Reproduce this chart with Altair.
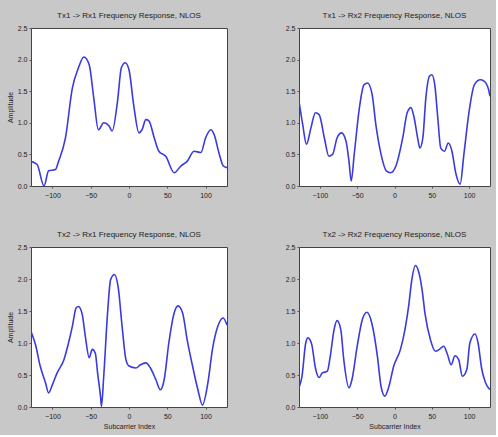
import altair as alt
import pandas as pd

# Subcarrier index / amplitude samples
tl_x = [-128,-120,-111,-105,-96,-92,-83,-74,-66,-59,-52,-46,-40,-33,-26,-22,-15,-10,-5,0,6,13,17,22,26,33,39,48,59,68,76,85,94,100,107,111,118,123,128]
tl_y = [0.39,0.34,0.0,0.24,0.26,0.39,0.76,1.55,1.87,2.04,1.92,1.39,0.89,1.0,0.95,0.87,1.34,1.87,1.95,1.84,1.29,0.84,0.89,1.05,1.03,0.76,0.55,0.47,0.21,0.32,0.39,0.55,0.53,0.76,0.89,0.82,0.5,0.32,0.29]

tr_x = [-128,-123,-118,-112,-106,-101,-94,-88,-83,-77,-71,-65,-61,-58,-54,-47,-41,-36,-30,-25,-18,-11,-5,2,11,17,22,26,31,34,38,42,47,50,54,58,62,67,72,77,82,88,93,100,107,115,120,126,128]
tr_y = [1.34,0.97,0.66,0.92,1.16,1.13,0.76,0.47,0.5,0.76,0.84,0.71,0.39,0.08,0.5,1.24,1.6,1.63,1.45,0.97,0.5,0.24,0.21,0.32,0.76,1.16,1.24,1.1,0.76,0.6,0.76,1.39,1.74,1.76,1.6,1.08,0.6,0.55,0.68,0.55,0.21,0.03,0.5,1.18,1.6,1.68,1.66,1.53,1.42]

bl_x = [-128,-122,-116,-109,-105,-100,-94,-85,-79,-74,-69,-66,-61,-57,-52,-48,-44,-41,-37,-36,-33,-28,-24,-19,-14,-9,-4,0,9,15,22,28,35,41,46,52,59,64,70,76,83,90,96,103,109,116,123,128]
bl_y = [1.18,0.97,0.64,0.375,0.22,0.35,0.53,0.74,1.0,1.26,1.55,1.57,1.44,1.1,0.77,0.9,0.84,0.53,0.14,0.01,0.48,1.47,1.99,2.07,1.86,1.26,0.74,0.64,0.61,0.66,0.69,0.61,0.43,0.27,0.43,1.0,1.47,1.58,1.47,1.05,0.64,0.27,0.03,0.375,0.9,1.26,1.39,1.28]

br_x = [-128,-124,-119,-116,-111,-106,-101,-97,-90,-86,-81,-77,-72,-68,-61,-57,-50,-43,-37,-30,-23,-18,-13,-8,-1,8,14,19,23,28,32,37,41,48,55,60,66,71,76,81,86,91,97,101,108,112,117,122,128]
br_y = [0.3,0.48,1.0,1.08,0.98,0.61,0.46,0.53,0.56,0.8,1.21,1.35,1.21,0.74,0.3,0.43,0.95,1.37,1.48,1.29,0.8,0.32,0.17,0.3,0.64,0.9,1.21,1.58,1.97,2.21,2.13,1.83,1.45,1.06,0.87,0.9,0.95,0.82,0.66,0.8,0.74,0.48,0.59,1.0,1.14,1.0,0.59,0.38,0.27]

titles = [
    "Tx1 -> Rx1 Frequency Response, NLOS",
    "Tx1 -> Rx2 Frequency Response, NLOS",
    "Tx2 -> Rx1 Frequency Response, NLOS",
    "Tx2 -> Rx2 Frequency Response, NLOS",
]
x_ticks = [-100, -50, 0, 50, 100]
y_ticks = [0, 0.5, 1, 1.5, 2, 2.5]

FONT = "Liberation Sans"


def panel(xs, ys, title, w, h, xtitle=None, ytitle=None):
    df = pd.DataFrame({"x": xs, "y": ys})
    xax = dict(values=x_ticks, labelFontSize=7, tickSize=2, labelPadding=3,
               domain=False, grid=False, labelColor="#222", tickColor="#555")
    yax = dict(values=y_ticks, labelFontSize=7, tickSize=2, labelPadding=2,
               domain=False, grid=False, labelColor="#222", tickColor="#555")
    if xtitle:
        xax.update(titleFontSize=7, titleFontWeight="normal",
                   titlePadding=3, titleColor="#222")
    if ytitle:
        yax.update(titleFontSize=7, titleFontWeight="normal",
                   titlePadding=4, titleColor="#222")
    x_enc = alt.X("x:Q", scale=alt.Scale(domain=[-128, 128], nice=False),
                  axis=alt.Axis(**xax), title=xtitle if xtitle else None)
    y_enc = alt.Y("y:Q", scale=alt.Scale(domain=[0, 2.5], nice=False),
                  axis=alt.Axis(**yax), title=ytitle if ytitle else None)
    return (
        alt.Chart(df)
        .mark_line(color="#3a3ae0", strokeWidth=1.6, interpolate="monotone", clip=True)
        .encode(x=x_enc, y=y_enc)
        .properties(
            width=w,
            height=h,
            title=alt.TitleParams(title, fontSize=8, fontWeight="normal",
                                  font=FONT, color="#222", offset=4),
        )
    )


tl = panel(tl_x, tl_y, titles[0], 196, 158, ytitle="Amplitude")
tr = panel(tr_x, tr_y, titles[1], 191, 158)
bl = panel(bl_x, bl_y, titles[2], 196, 160, xtitle="Subcarrier Index", ytitle="Amplitude")
br = panel(br_x, br_y, titles[3], 191, 160, xtitle="Subcarrier Index")

chart = (
    alt.concat(tl, tr, bl, br, columns=2, spacing={"row": 61, "column": 72},
               bounds="flush")
    .configure(background="#c8c8c8", padding={"left": 5, "top": 11, "right": 5, "bottom": 5},
               font=FONT)
    .configure_view(stroke="#444", strokeWidth=1, fill="white")
)

chart.save("out.html", embed_options={"renderer": "svg", "actions": False})
